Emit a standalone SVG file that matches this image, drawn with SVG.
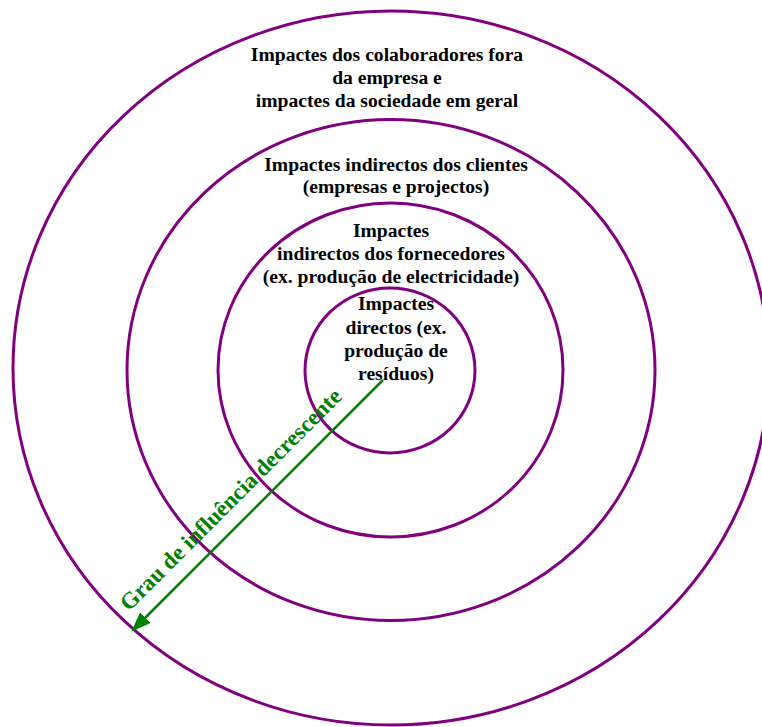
<svg xmlns="http://www.w3.org/2000/svg" width="762" height="727" viewBox="0 0 762 727">
<style>
.ring{fill:none;stroke:#800080;stroke-width:3}
.lbl{font-family:"Liberation Serif","Times New Roman",serif;font-weight:bold;font-size:19.6px;fill:#000;text-anchor:middle}
.arr{font-family:"Liberation Serif","Times New Roman",serif;font-weight:bold;font-size:23px;fill:#008000}
</style>
<defs>
<marker id="ah" markerWidth="8" markerHeight="6" refX="7" refY="3" orient="auto" markerUnits="strokeWidth">
<path d="M0,0 L8,3 L0,6 Z" fill="#008000"/>
</marker>
</defs>
<rect width="762" height="727" fill="#fff"/>
<g id="ring-outer">
<ellipse class="ring" cx="391" cy="368" rx="378" ry="357"/>
<text class="lbl" x="387" y="61"><tspan x="387">Impactes dos colaboradores fora</tspan><tspan x="387" y="84">da empresa e</tspan><tspan x="387" y="107">impactes da sociedade em geral</tspan></text>
</g>
<g id="ring-clients">
<ellipse class="ring" cx="391" cy="370" rx="264" ry="250.5"/>
<text class="lbl" x="396" y="171"><tspan x="396">Impactes indirectos dos clientes</tspan><tspan x="396" y="193">(empresas e projectos)</tspan></text>
</g>
<g id="ring-suppliers">
<ellipse class="ring" cx="390.5" cy="370" rx="172.5" ry="167"/>
<text class="lbl" x="391" y="237"><tspan x="391">Impactes</tspan><tspan x="391" y="260">indirectos dos fornecedores</tspan><tspan x="391" y="283">(ex. produção de electricidade)</tspan></text>
</g>
<g id="ring-direct">
<ellipse class="ring" cx="390" cy="370.5" rx="85" ry="82.5"/>
<text class="lbl" x="396" y="310"><tspan x="396">Impactes</tspan><tspan x="396" y="334">directos (ex.</tspan><tspan x="396" y="357">produção de</tspan><tspan x="396" y="380">resíduos)</tspan></text>
</g>
<g id="connectors">
<line x1="383" y1="380" x2="133" y2="630" stroke="#008000" stroke-width="2.5" marker-end="url(#ah)"/>
<text class="arr" transform="translate(129,612) rotate(-45)">Grau de influência decrescente</text>
</g>
</svg>
